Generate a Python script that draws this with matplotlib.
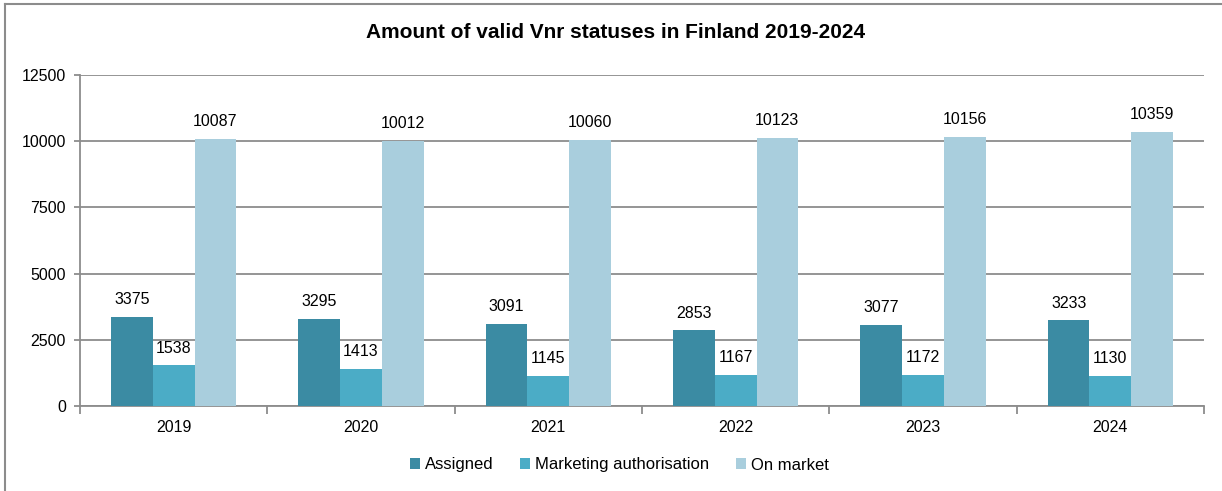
import numpy as np
import matplotlib
matplotlib.use("Agg")
import matplotlib.pyplot as plt
from matplotlib.lines import Line2D

# data
years = ["2019", "2020", "2021", "2022", "2023", "2024"]
assigned = [3375, 3295, 3091, 2853, 3077, 3233]
marketing = [1538, 1413, 1145, 1167, 1172, 1130]
on_market = [10087, 10012, 10060, 10123, 10156, 10359]
series_names = ["Assigned", "Marketing authorisation", "On market"]
colors = ["#3B8BA3", "#4BACC6", "#A9CEDD"]

plt.rcParams["font.family"] = ["Liberation Sans", "DejaVu Sans"]
grey = "#8C8C8C"

fig = plt.figure(figsize=(12.22, 4.91), dpi=100)
ax = fig.add_axes([80 / 1222, 1 - 406 / 491, (1204 - 80) / 1222, (406 - 75) / 491])

x = np.arange(len(years))
w = 0.2225
for i, (vals, name, c) in enumerate(zip([assigned, marketing, on_market], series_names, colors)):
    bars = ax.bar(x + (i - 1) * w, vals, w, color=c, label=name, zorder=3)
    for b, v in zip(bars, vals):
        ax.annotate(str(v), (b.get_x() + b.get_width() / 2, v), xytext=(0, 7),
                    textcoords="offset points", ha="center", va="bottom", fontsize=11.5)

ax.set_xlim(-0.5, len(years) - 0.5)
ax.set_ylim(0, 12500)
ax.set_yticks(np.arange(0, 12501, 2500))
ax.yaxis.grid(True, color=grey, linewidth=1.3, zorder=0)
ax.set_xticks(x)
ax.set_xticklabels(years)
ax.set_xticks(np.arange(-0.5, len(years)), minor=True)
ax.tick_params(axis="x", which="major", length=0, labelsize=11.5, pad=10)
ax.tick_params(axis="x", which="minor", length=6, color=grey, width=1.3)
ax.tick_params(axis="y", length=4, color=grey, width=1.3, labelsize=11.5, pad=6)
for s in ["top", "right"]:
    ax.spines[s].set_visible(False)
for s in ["left", "bottom"]:
    ax.spines[s].set_color(grey)
    ax.spines[s].set_linewidth(1.3)

fig.text(616 / 1222, 1 - 33 / 491, "Amount of valid Vnr statuses in Finland 2019-2024",
         fontsize=15, fontweight="bold", ha="center", va="center")

fig.legend(loc="center", bbox_to_anchor=(619 / 1222, 1 - 465 / 491), ncol=3, frameon=False,
           fontsize=12, handlelength=0.6, handleheight=0.6, handletextpad=0.3,
           columnspacing=1.6)

# outer chart border (left and top only visible)
fig.add_artist(Line2D([5 / 1222, 5 / 1222], [0, 1 - 4 / 491], transform=fig.transFigure,
                      color=grey, linewidth=1.5))
fig.add_artist(Line2D([5 / 1222, 1], [1 - 4 / 491, 1 - 4 / 491], transform=fig.transFigure,
                      color=grey, linewidth=1.5))

fig.savefig("out.png", dpi=100)
